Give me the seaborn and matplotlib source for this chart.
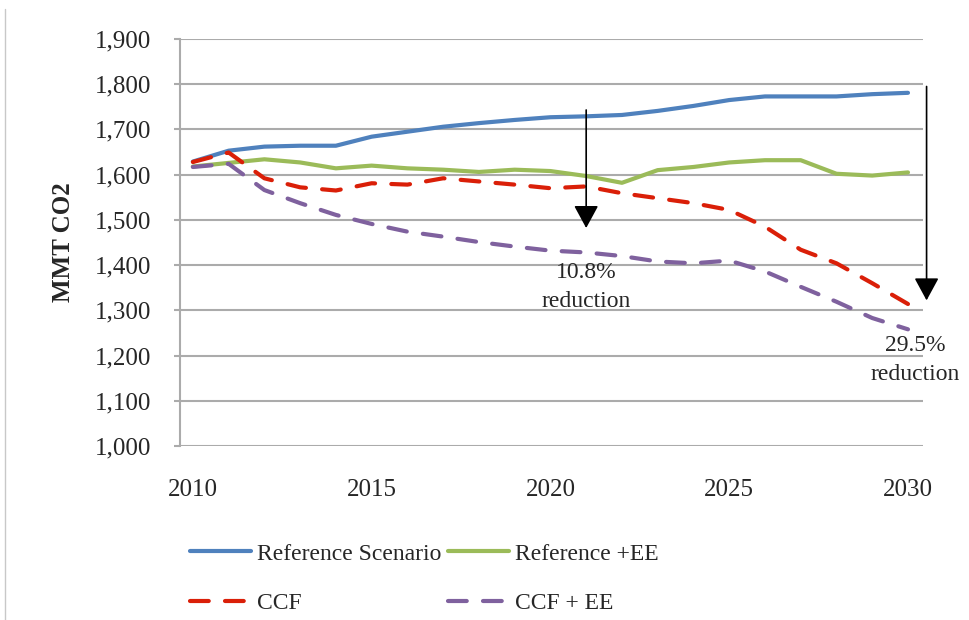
import matplotlib
matplotlib.use("Agg")
import matplotlib.pyplot as plt
from matplotlib.lines import Line2D
from matplotlib.ticker import StrMethodFormatter
import seaborn as sns

# data (MMT CO2 per year)
years = list(range(2010, 2031))
reference_scenario = [1629, 1653, 1662, 1664, 1664, 1684, 1695, 1706, 1714, 1721, 1727,
                      1729, 1732, 1741, 1752, 1765, 1773, 1773, 1773, 1778, 1781]
reference_ee = [1618, 1626, 1634, 1627, 1614, 1620, 1614, 1611, 1606, 1611, 1608,
                1597, 1582, 1610, 1617, 1627, 1632, 1632, 1602, 1598, 1605]
ccf = [1628, 1649, 1592, 1572, 1565, 1581, 1578, 1592, 1585, 1578, 1570,
       1574, 1559, 1548, 1537, 1522, 1485, 1434, 1404, 1360, 1314]
ccf_ee = [1617, 1624, 1566, 1537, 1511, 1491, 1474, 1463, 1451, 1441, 1432,
          1428, 1420, 1408, 1404, 1410, 1386, 1352, 1319, 1283, 1258]

series_names = ["Reference Scenario", "Reference +EE", "CCF", "CCF + EE"]
series_values = [reference_scenario, reference_ee, ccf, ccf_ee]
series_colors = ["#4F81BD", "#9BBB59", "#DA1F08", "#7F619E"]
series_dashed = [False, False, True, True]

y_ticks = list(range(1000, 2000, 100))
x_ticks = [2010, 2015, 2020, 2025, 2030]

# arrow annotations: (x, y start, y tip, text x, text y, text)
notes = [
    (2021, 1743, 1482, 2021, 1352, "10.8%\nreduction"),
    (2030.52, 1795, 1322, 2030.2, 1190, "29.5%\nreduction"),
]

sns.set_style("white")
plt.rcParams['font.family'] = ['Liberation Serif', 'DejaVu Serif']

fig = plt.figure(figsize=(9.69, 6.2), dpi=100)
ax = fig.add_axes([180 / 969, 1 - 446 / 620, (923 - 180) / 969, (446 - 39) / 620])

grid_col = "#ABABAB"
for name, vals, col, dashed in zip(series_names, series_values, series_colors, series_dashed):
    kw = dict(linestyle=(0, (4.5, 3.9)), dash_capstyle="round") if dashed else {}
    sns.lineplot(x=years, y=vals, ax=ax, color=col, linewidth=3.0, label=name, **kw)

ax.set_xlim(2009.64, 2030.42)
ax.set_ylim(1000, 1900)
ax.set_yticks(y_ticks)
ax.set_xticks(x_ticks)
ax.yaxis.set_major_formatter(StrMethodFormatter("{x:,.0f}"))
ax.grid(axis="y", color=grid_col, linewidth=1.5)
ax.set_axisbelow(True)
for side in ["top", "right", "bottom"]:
    ax.spines[side].set_visible(False)
ax.spines["left"].set_color(grid_col)
ax.spines["left"].set_linewidth(1.5)
ax.tick_params(axis="y", length=4, width=1.5, color=grid_col, pad=17, labelsize=18, left=True)
ax.tick_params(axis="x", length=0, pad=24, labelsize=18)
ax.set_ylabel("MMT CO2", fontsize=18, fontweight="bold", labelpad=14)
ax.set_xlabel("")

for x, y0, y1, tx, ty, txt in notes:
    ax.annotate("", xy=(x, y1), xytext=(x, y0),
                arrowprops=dict(arrowstyle="-|>,head_length=0.7,head_width=0.38",
                                mutation_scale=20, color="black", lw=1.2,
                                shrinkA=0, shrinkB=0),
                annotation_clip=False)
    ax.text(tx, ty, txt, ha="center", va="center", fontsize=17,
            linespacing=1.5, clip_on=False)

handles, labels = ax.get_legend_handles_labels()
order = [0, 2, 1, 3]
ax.legend([handles[i] for i in order], [labels[i] for i in order],
          ncol=2, frameon=False, fontsize=17, loc="upper left",
          bbox_to_anchor=(190 / 969, 1 - 543 / 620), bbox_transform=fig.transFigure,
          borderpad=0, borderaxespad=0, handlelength=2.6, handletextpad=0.25,
          columnspacing=0.25, labelspacing=1.2)

# thin frame line at the left edge of the picture
fig.add_artist(Line2D([5 / 969, 5 / 969], [0, 1 - 9 / 620], transform=fig.transFigure,
                      color="#C8C8C8", linewidth=1))

fig.savefig("out.png", dpi=100)
